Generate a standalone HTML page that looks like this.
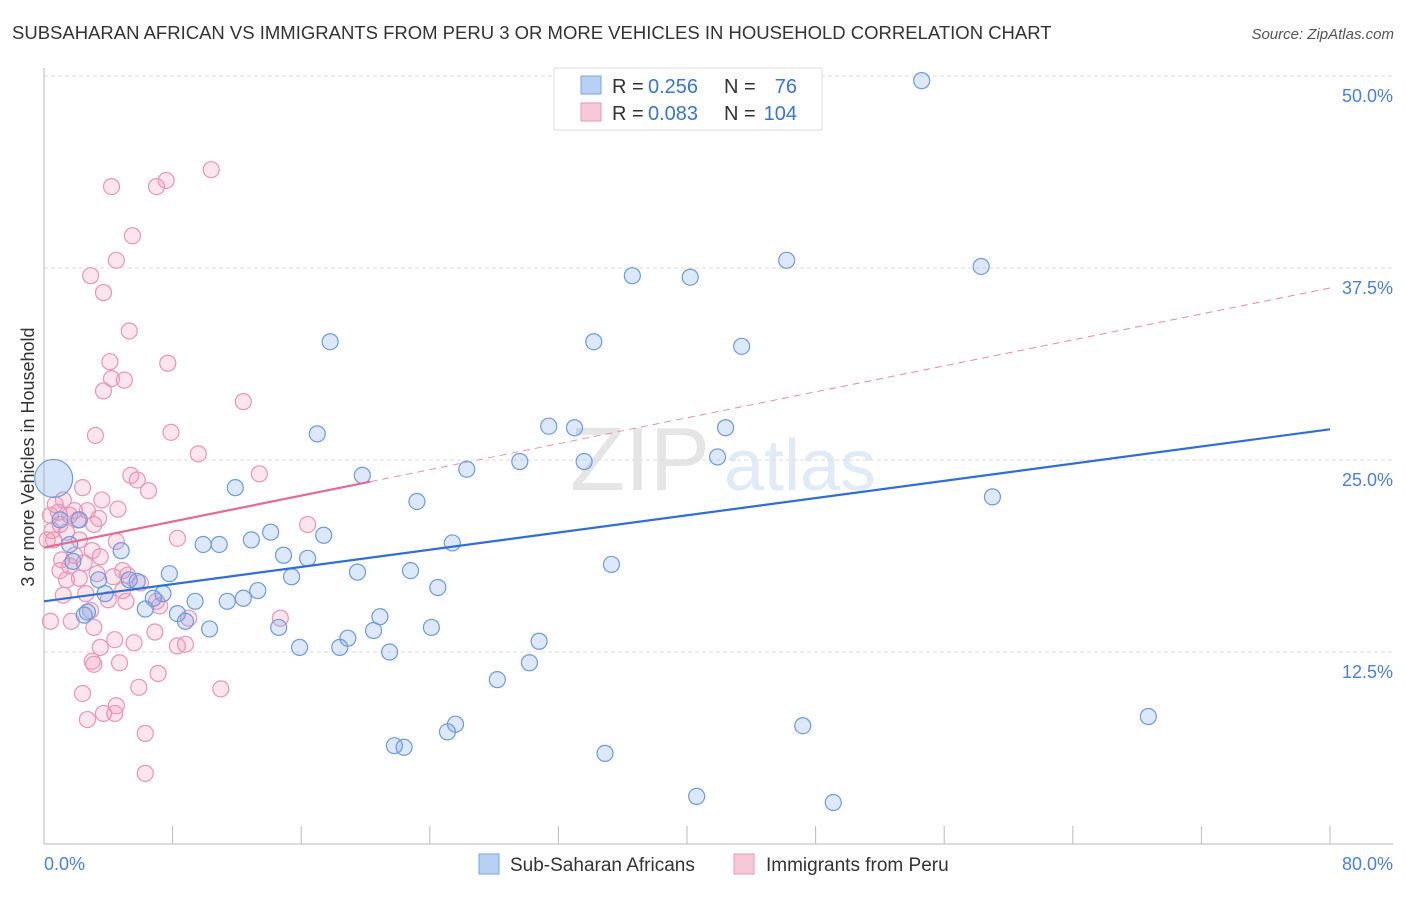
<!DOCTYPE html>
<html><head><meta charset="utf-8"><style>
body{margin:0;background:#fff;font-family:"Liberation Sans",sans-serif;}
svg text{font-family:"Liberation Sans",sans-serif;}
</style></head><body>
<svg id="chart" width="1406" height="892" xmlns="http://www.w3.org/2000/svg">
<text x="12" y="39" font-size="18.5" fill="#333">SUBSAHARAN AFRICAN VS IMMIGRANTS FROM PERU 3 OR MORE VEHICLES IN HOUSEHOLD CORRELATION CHART</text>
<text x="1394" y="39" font-size="15" fill="#555" font-style="italic" text-anchor="end">Source: ZipAtlas.com</text>
<text transform="translate(34,457) rotate(-90)" font-size="18" fill="#333" text-anchor="middle">3 or more Vehicles in Household</text>
<g opacity="0.25">
<text x="640" y="490" font-size="90" fill="#999" font-family="Liberation Serif" text-anchor="middle">ZIP</text>
<text x="800" y="490" font-size="72" fill="#8ab0e0" text-anchor="middle">atlas</text>
</g>
<g id="grid"></g><g id="axes"></g><g id="pts"></g><g id="trends"></g>
<g>
<rect x="554" y="68" width="268" height="62" fill="#fff" stroke="#ddd"/>
<rect x="581" y="76" width="20" height="18" fill="#b8d0f4" stroke="#7aa6e0"/>
<text x="612" y="93" font-size="20" fill="#333">R =</text>
<text x="648" y="93" font-size="20" fill="#3a74d0">0.256</text>
<text x="724" y="93" font-size="20" fill="#333">N =</text>
<text x="797" y="93" font-size="20" fill="#3a74d0" text-anchor="end">76</text>
<rect x="581" y="103" width="20" height="18" fill="#f8c8d8" stroke="#e898b4"/>
<text x="612" y="120" font-size="20" fill="#333">R =</text>
<text x="648" y="120" font-size="20" fill="#3a74d0">0.083</text>
<text x="724" y="120" font-size="20" fill="#333">N =</text>
<text x="797" y="120" font-size="20" fill="#3a74d0" text-anchor="end">104</text>
</g>
<g>
<rect x="479" y="854" width="20" height="20" fill="#b8d0f4" stroke="#7aa6e0"/>
<text x="510" y="871" font-size="19" fill="#333">Sub-Saharan Africans</text>
<rect x="734" y="854" width="20" height="20" fill="#f8c8d8" stroke="#e898b4"/>
<text x="766" y="871" font-size="19" fill="#333">Immigrants from Peru</text>
</g>
</svg>
<script>
const yTicks=[12.5,25,37.5,50];
const yTickLabels=["12.5%","25.0%","37.5%","50.0%"];
const xTickValues=[0,8,16,24,32,40,48,56,64,72,80];
const blueX=[54.6,36.6,40.2,46.2,58.3,17.8,34.2,43.4,17.0,31.4,33.0,42.4,26.3,29.6,33.6,41.9,19.8,11.9,59.0,23.2,17.4,12.9,14.1,9.9,10.9,4.8,25.4,14.9,16.4,35.3,1.6,1.8,19.5,22.8,7.8,15.4,3.4,5.3,5.8,24.5,13.3,12.4,11.4,9.4,3.8,7.4,6.8,6.3,8.3,8.8,20.9,10.3,14.6,18.9,20.5,24.1,30.8,15.9,18.4,21.5,30.2,28.2,25.6,25.1,21.8,22.4,34.9,47.2,68.7,40.6,49.1,2.5,2.7,1.0,2.2];
const blueY=[49.7,37.0,36.9,38.0,37.6,32.7,32.7,32.4,26.7,27.2,27.1,27.1,24.4,24.9,24.9,25.2,24.0,23.2,22.6,22.3,20.1,19.8,20.3,19.5,19.5,19.1,19.6,18.8,18.6,18.2,19.5,18.4,17.7,17.8,17.6,17.4,17.2,17.2,17.1,16.7,16.5,16.0,15.8,15.8,16.3,16.3,16.0,15.3,15.0,14.5,14.8,14.0,14.1,13.4,13.9,14.1,13.2,12.8,12.8,12.5,11.8,10.7,7.8,7.3,6.4,6.3,5.9,7.7,8.3,3.1,2.7,14.9,15.1,21.1,21.1];
const blueBig=[0.6,23.8];
const pinkX=[4.2,7.0,7.6,10.4,5.5,4.5,2.9,3.7,5.3,4.1,7.7,4.2,5.0,3.7,12.4,3.2,7.9,9.6,5.4,5.8,6.5,13.4,2.4,3.6,2.7,4.6,1.2,0.9,0.4,1.6,2.1,1.0,3.1,16.4,8.3,0.6,4.5,3.0,1.9,3.5,2.5,1.6,1.0,4.9,5.2,3.3,4.3,2.2,1.4,6.0,4.9,2.6,1.2,4.0,5.1,7.0,7.2,2.9,14.7,9.0,0.4,1.7,3.1,6.9,4.4,5.6,8.3,8.8,3.5,3.0,3.1,4.7,7.1,5.9,11.0,2.4,4.5,3.7,2.7,4.4,6.3,6.3,0.2,0.5,0.7,1.1,1.9,1.4,2.2,3.4];
const pinkY=[42.8,42.8,43.2,43.9,39.6,38.0,37.0,35.9,33.4,31.4,31.3,30.3,30.2,29.5,28.8,26.6,26.8,25.4,24.0,23.7,23.0,24.1,23.2,22.4,21.7,21.8,22.4,21.6,21.4,21.4,21.1,20.8,20.8,20.8,19.9,19.8,19.7,19.1,18.8,18.7,18.3,18.1,17.8,17.8,17.5,17.6,17.4,17.3,17.2,17.0,16.5,16.3,16.2,15.9,15.8,15.8,15.5,15.2,14.7,14.7,14.5,14.5,14.1,13.8,13.3,13.1,12.9,13.0,12.8,11.9,11.7,11.8,11.1,10.2,10.1,9.8,9.0,8.5,8.1,8.5,7.2,4.6,19.8,20.4,22.1,18.5,21.7,20.3,19.8,21.2];
const blueTrend=[15.8,27.0];
const pinkTrend=[19.3,36.2];
const pinkSolidEnd=20.3;

const NS="http://www.w3.org/2000/svg";
const X0=44,X1=1330,Y0=844,YS=15.36;
const xs=v=>X0+v*(X1-X0)/80, ys=v=>Y0-v*YS;
function mk(t,a,p){const e=document.createElementNS(NS,t);for(const k in a)e.setAttribute(k,a[k]);p.appendChild(e);return e;}
const grid=document.getElementById('grid'),axes=document.getElementById('axes'),pts=document.getElementById('pts'),tr=document.getElementById('trends');
yTicks.forEach((v,i)=>{
 const l=mk('line',{x1:X0,x2:1393,y1:ys(v),y2:ys(v),stroke:'#ddd','stroke-dasharray':'4,3'},grid);
 
 
 const t=mk('text',{x:1393,y:ys(v)+26,'font-size':18,fill:'#4a80d6','text-anchor':'end'},axes);
 t.textContent=yTickLabels[i];
 
 
});
const ax=mk('line',{x1:X0,x2:X0,y1:68,y2:Y0,stroke:'#bbb'},axes);


const bx=mk('line',{x1:X0,x2:1393,y1:Y0,y2:Y0,stroke:'#bbb'},axes);


xTickValues.forEach(v=>{
 const l=mk('line',{x1:xs(v),x2:xs(v),y1:Y0,y2:Y0-18,stroke:'#bbb'},axes);
 
 
});
const xl=mk('text',{x:X0,y:870,'font-size':18,fill:'#4a80d6'},axes);xl.textContent='0.0%';


const xr=mk('text',{x:1393,y:870,'font-size':18,fill:'#4a80d6','text-anchor':'end'},axes);xr.textContent='80.0%';


pinkX.forEach((v,i)=>{
 const c=mk('circle',{cx:xs(v),cy:ys(pinkY[i]),r:8,fill:'rgba(244,150,185,0.25)',stroke:'#ea95b5','stroke-width':1.2},pts);
 
 
});
blueX.forEach((v,i)=>{
 const c=mk('circle',{cx:xs(v),cy:ys(blueY[i]),r:8,fill:'rgba(120,165,235,0.25)',stroke:'#6b9be0','stroke-width':1.2},pts);
 
 
});
const bb=mk('circle',{cx:xs(blueBig[0]),cy:ys(blueBig[1]),r:19,fill:'rgba(120,165,235,0.3)',stroke:'#6b9be0','stroke-width':1.2},pts);


const bt=mk('line',{x1:xs(0),y1:ys(blueTrend[0]),x2:xs(80),y2:ys(blueTrend[1]),stroke:'#2f6fd4','stroke-width':2.2},tr);


const pAt=v=>pinkTrend[0]+(pinkTrend[1]-pinkTrend[0])*v/80;
const pd=mk('line',{x1:xs(pinkSolidEnd),y1:ys(pAt(pinkSolidEnd)),x2:xs(80),y2:ys(pinkTrend[1]),stroke:'#e98aab','stroke-width':1,'stroke-dasharray':'7,5'},tr);


const ps=mk('line',{x1:xs(0),y1:ys(pinkTrend[0]),x2:xs(pinkSolidEnd),y2:ys(pAt(pinkSolidEnd)),stroke:'#e36a94','stroke-width':2.2},tr);


</script>
</body></html>
